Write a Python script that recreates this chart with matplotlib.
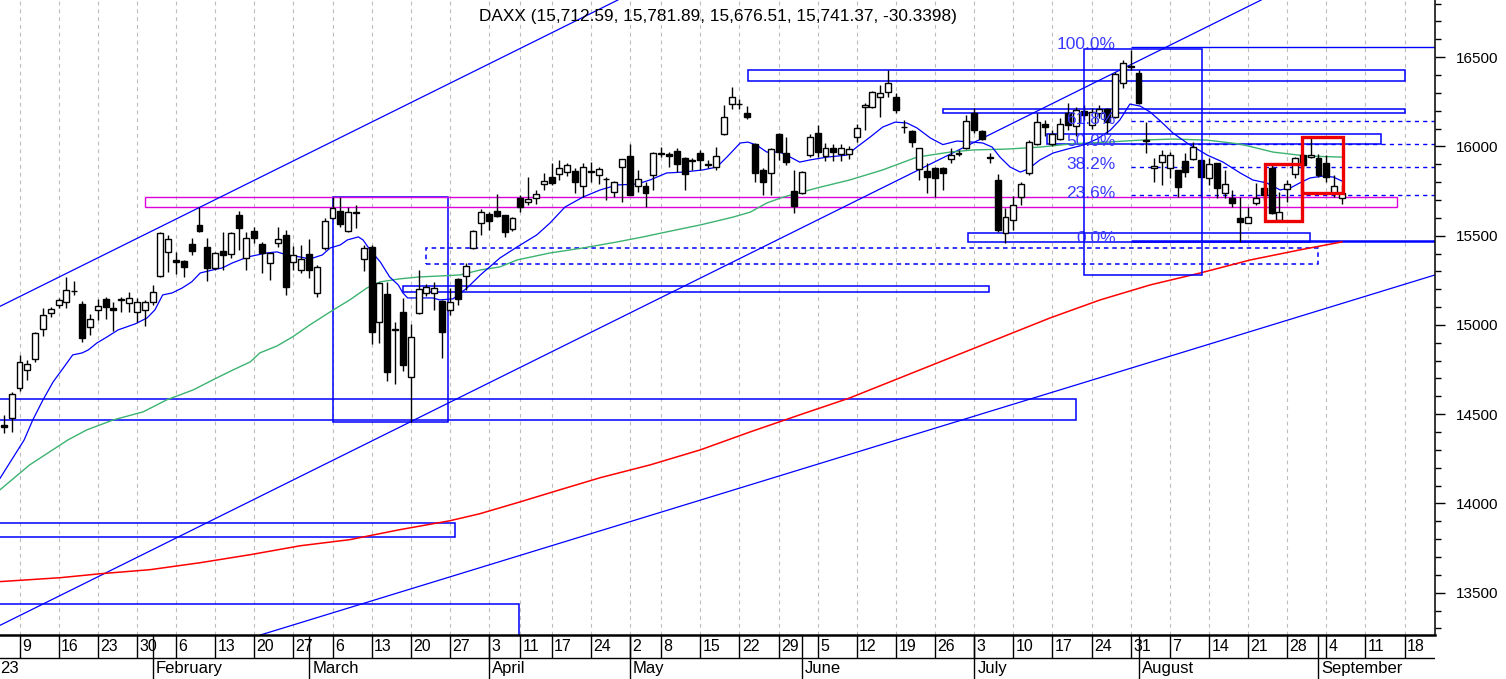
import numpy as np
import pandas as pd
import matplotlib
matplotlib.use("Agg")
import matplotlib.pyplot as plt
from matplotlib.patches import Rectangle
from matplotlib.ticker import MultipleLocator

plt.rcParams['font.family'] = ['Liberation Sans', 'DejaVu Sans']

# Xetra trading calendar 2023 (x axis = trading day number since 2 Jan)
holidays = ["2023-04-07", "2023-04-10", "2023-05-01"]
days = pd.bdate_range("2023-01-02", "2023-09-29")
days = days[~days.isin(pd.to_datetime(holidays))]

title = "DAXX (15,712.59, 15,781.89, 15,676.51, 15,741.37, -30.3398)"

# daily candles from 5 Jan 2023
first_candle = "2023-01-05"
opens = [14440, 14480, 14647, 14748, 14810, 14978, 15067, 15112, 15129, 15190,
         15118, 14989, 15084, 15146, 15095, 15140, 15123, 15073, 15084, 15129,
         15274, 15409, 15364, 15358, 15453, 15560, 15437, 15319, 15414, 15397,
         15616, 15375, 15526, 15453, 15347, 15459, 15504, 15353, 15308, 15397,
         15179, 15431, 15599, 15638, 15526, 15632, 15370, 15437, 15017, 15174,
         14975, 15073, 14709, 15067, 15179, 15179, 15134, 15085, 15257, 15274,
         15431, 15571, 15621, 15638, 15616, 15537, 15711, 15689, 15711, 15789,
         15829, 15846, 15857, 15862, 15778, 15862, 15840, 15820, 15745, 15885,
         15946, 15778, 15778, 15840, 15957, 15957, 15974, 15935, 15920, 15963,
         15900, 15885, 16069, 16237, 16240, 16187, 16013, 15868, 15851, 16069,
         15963, 15750, 15739, 15952, 16075, 15946, 15991, 15957, 15957, 16052,
         16220, 16220, 16276, 16304, 16276, 16110, 16086, 15873, 15862, 15879,
         15879, 15929, 15963, 15991, 16187, 16086, 15940, 15812, 15515, 15588,
         15717, 15851, 16013, 16125, 16011, 16041, 16187, 16116, 16200, 16120,
         16187, 16209, 16164, 16355, 16450, 16410, 16035, 15881, 15912, 15879,
         15868, 15918, 15929, 15924, 15823, 15907, 15739, 15711, 15599, 15571,
         15683, 15767, 15879, 15588, 15761, 15846, 15950, 15940, 15935, 15907,
         15739, 15712.59]
highs = [14497, 14625, 14832, 14804, 14961, 15095, 15101, 15151, 15269, 15246,
         15134, 15062, 15146, 15157, 15129, 15157, 15185, 15151, 15140, 15224,
         15521, 15504, 15409, 15364, 15487, 15660, 15487, 15409, 15521, 15521,
         15638, 15521, 15549, 15464, 15409, 15549, 15532, 15442, 15448, 15481,
         15336, 15599, 15716, 15716, 15660, 15672, 15448, 15448, 15241, 15241,
         15017, 15151, 15006, 15308, 15230, 15241, 15140, 15207, 15264, 15347,
         15532, 15649, 15632, 15733, 15618, 15604, 15728, 15829, 15756, 15851,
         15907, 15924, 15907, 15879, 15907, 15912, 15885, 15829, 15806, 15932,
         16013, 15868, 15801, 15969, 15996, 15969, 15991, 15940, 15935, 15980,
         15924, 15996, 16231, 16332, 16265, 16226, 16019, 15879, 15991, 16075,
         16052, 15868, 15862, 16069, 16120, 16019, 16013, 16013, 16000, 16125,
         16242, 16310, 16343, 16427, 16299, 16148, 16092, 15991, 15907, 15885,
         15885, 15991, 15980, 16175, 16215, 16092, 15963, 15846, 15655, 15722,
         15801, 16035, 16187, 16150, 16092, 16159, 16243, 16220, 16230, 16215,
         16230, 16215, 16416, 16483, 16540, 16427, 16136, 15935, 15980, 15969,
         15868, 15963, 16024, 15924, 15935, 15907, 15868, 15756, 15717, 15660,
         15795, 15812, 15896, 15745, 15812, 15940, 15960, 16047, 15960, 15952,
         15840, 15781.89]
lows = [14396, 14401, 14631, 14692, 14793, 14938, 15045, 15095, 15095, 15168,
        14905, 14944, 15028, 15034, 14966, 15073, 15073, 15017, 14994, 15112,
        15269, 15297, 15286, 15269, 15392, 15521, 15246, 15308, 15308, 15375,
        15420, 15308, 15459, 15291, 15252, 15437, 15168, 15308, 15291, 15263,
        15157, 15420, 15593, 15549, 15521, 15543, 15300, 14894, 14900, 14687,
        14670, 14740, 14458, 15062, 15160, 15085, 14815, 15056, 15112, 15196,
        15425, 15504, 15532, 15604, 15493, 15526, 15632, 15672, 15677, 15756,
        15784, 15812, 15834, 15739, 15717, 15801, 15789, 15700, 15717, 15689,
        15725, 15745, 15661, 15756, 15940, 15885, 15857, 15756, 15868, 15868,
        15879, 15868, 16065, 16209, 16209, 16153, 15801, 15728, 15728, 15924,
        15896, 15627, 15733, 15940, 15940, 15918, 15918, 15918, 15930, 16024,
        16092, 16215, 16164, 16276, 16187, 16075, 15996, 15812, 15739, 15717,
        15756, 15907, 15946, 15985, 16075, 16035, 15907, 15521, 15459, 15532,
        15672, 15840, 16008, 16060, 16000, 16035, 16090, 16060, 16150, 16100,
        16160, 16075, 16159, 16327, 16427, 16240, 15963, 15801, 15784, 15823,
        15717, 15829, 15924, 15717, 15784, 15711, 15711, 15661, 15465, 15571,
        15672, 15700, 15621, 15588, 15689, 15823, 15880, 15935, 15830, 15801,
        15717, 15676.51]
closes = [14430, 14614, 14793, 14782, 14955, 15056, 15090, 15140, 15196, 15188,
          14927, 15034, 15106, 15101, 15084, 15146, 15151, 15129, 15129, 15185,
          15515, 15481, 15353, 15325, 15414, 15526, 15319, 15403, 15392, 15515,
          15543, 15487, 15487, 15403, 15403, 15481, 15213, 15392, 15370, 15308,
          15325, 15582, 15655, 15565, 15632, 15627, 15431, 14961, 15235, 14737,
          14970, 14776, 14933, 15202, 15213, 15207, 14961, 15128, 15146, 15330,
          15526, 15632, 15582, 15610, 15520, 15599, 15661, 15706, 15733, 15806,
          15795, 15879, 15896, 15801, 15885, 15857, 15874, 15815, 15801, 15929,
          15728, 15818, 15739, 15963, 15962, 15946, 15901, 15846, 15926, 15924,
          15897, 15946, 16164, 16276, 16235, 16164, 15851, 15801, 15985, 15969,
          15912, 15666, 15857, 16052, 15969, 15991, 15969, 15991, 15985, 16103,
          16231, 16304, 16299, 16354, 16203, 16106, 16024, 15991, 15829, 15823,
          15851, 15952, 15957, 16142, 16092, 16041, 15934, 15532, 15605, 15672,
          15789, 16024, 16136, 16110, 16067, 16125, 16120, 16203, 16177, 16192,
          16209, 16136, 16405, 16466, 16444, 16243, 16030, 15892, 15952, 15952,
          15773, 15857, 15996, 15829, 15901, 15767, 15789, 15683, 15577, 15605,
          15711, 15728, 15627, 15632, 15789, 15935, 15895, 15952, 15840, 15829,
          15778, 15741.37]

# moving averages (trading day number, value)
fast_x = [2.5, 5.6, 6.7, 8.0, 9.3, 10.6, 11.8, 13.0, 13.8, 14.9, 16.2, 17.6, 19.8,
          21.3, 22.3, 23.3, 24.5, 25.8, 27.0, 28.1, 29.7, 30.9, 32.2, 34.2, 36.6,
          37.9, 39.2, 40.8, 42.1, 43.7, 44.7, 46.0, 46.9, 48.3, 48.9, 49.8, 51.1,
          52.3, 53.4, 54.0, 54.6, 56.2, 57.8, 58.7, 60.4, 62.2, 63.9, 66.4, 68.6,
          71.1, 72.8, 74.7, 77.0, 79.2, 81.4, 83.9, 85.6, 87.7, 89.8, 92.3, 94.1,
          95.4, 97.1, 98.1, 99.2, 100.5, 102.2, 103.5, 104.7, 106.0, 108.2, 110.7,
          112.0, 113.7, 115.3, 116.9, 118.4, 119.7, 121.4, 123.0, 124.8, 126.8,
          128.1, 129.3, 130.3, 131.6, 132.9, 133.9, 135.4, 137.1, 138.9, 140.9,
          142.7, 144.4, 145.6, 146.9, 148.2, 149.5, 150.8, 152.4, 154.2, 156.8,
          158.8, 161.0, 162.6, 164.4, 166.1, 167.4, 168.6, 169.9, 171.6, 172.9, 174.0]
fast_y = [14140, 14356, 14468, 14580, 14681, 14759, 14832, 14843, 14860, 14899,
          14933, 14972, 15006, 15039, 15084, 15168, 15179, 15207, 15241, 15291,
          15308, 15319, 15347, 15381, 15403, 15409, 15392, 15381, 15369, 15392,
          15431, 15448, 15476, 15493, 15476, 15420, 15353, 15269, 15224, 15179,
          15151, 15151, 15151, 15140, 15146, 15207, 15280, 15375, 15437, 15504,
          15571, 15660, 15716, 15756, 15784, 15789, 15812, 15851, 15856, 15868,
          15884, 15940, 16019, 16024, 16007, 15968, 15968, 15940, 15912, 15924,
          15940, 15951, 15996, 16052, 16108, 16136, 16131, 16103, 16047, 16010,
          16030, 16024, 16019, 15996, 15940, 15884, 15856, 15873, 15924, 15963,
          15985, 16007, 16041, 16091, 16147, 16237, 16226, 16192, 16142, 16075,
          16019, 15951, 15912, 15851, 15812, 15795, 15756, 15767, 15795, 15823,
          15834, 15828, 15806]
mid_x = [2.5, 6.3, 11.2, 13.6, 17.0, 20.8, 23.8, 27.2, 30.2, 32.3, 34.5, 35.7,
         37.9, 39.9, 42.1, 44.7, 47.2, 49.4, 51.1, 53.6, 56.2, 58.7, 61.3, 63.9,
         66.4, 68.6, 72.8, 77.0, 81.4, 84.7, 87.7, 92.0, 96.2, 98.4, 100.5, 102.6,
         106.9, 111.1, 115.3, 119.7, 123.9, 126.8, 131.2, 135.4, 139.6, 144.0,
         148.2, 152.4, 156.8, 161.0, 165.2, 169.5, 174.0]
mid_y = [14076, 14216, 14356, 14412, 14468, 14513, 14580, 14636, 14703, 14748,
         14793, 14843, 14882, 14933, 15000, 15073, 15140, 15207, 15241, 15258,
         15269, 15274, 15280, 15308, 15325, 15364, 15403, 15431, 15465, 15493,
         15521, 15560, 15604, 15632, 15683, 15716, 15767, 15812, 15868, 15940,
         15968, 15980, 15985, 15996, 16015, 16024, 16035, 16041, 16035, 16013,
         15968, 15946, 15940]
slow_x = [2.5, 10.2, 15.3, 21.7, 28.1, 34.5, 40.9, 47.2, 53.6, 60.0, 63.8, 69.0,
          74.1, 79.2, 85.6, 92.0, 98.4, 104.7, 111.1, 117.5, 123.9, 130.3, 136.7,
          143.1, 149.5, 155.9, 162.3, 168.6, 174.0]
slow_y = [13562, 13584, 13606, 13629, 13668, 13713, 13763, 13797, 13853, 13903,
          13942, 14009, 14077, 14144, 14216, 14300, 14401, 14496, 14591, 14703,
          14815, 14927, 15039, 15140, 15224, 15291, 15364, 15420, 15465]

# drawn objects: zones (first day, last day, low, high)
blue_zones = [(45.0, 59.8, 14458, 15716), (-10, 140.0, 14468, 14586),
              (-10, 60.6, 13813, 13892), (-10, 68.8, 13000, 13438),
              (54.0, 128.9, 15183, 15220), (98.1, 182.1, 16367, 16427),
              (123.0, 182.1, 16185, 16209), (136.3, 179.0, 16011, 16069),
              (126.2, 169.9, 15463, 15515)]
dashed_zone = (56.9, 170.9, 15341, 15429)
magenta_zone = (21.0, 181.0, 15660, 15716)
fib_box = (141.0, 156.1, 15280, 16545)
red_zones = [(164.2, 168.9, 15582, 15901), (168.9, 174.1, 15740, 16054)]
# trend lines: two anchor points each (day, price)
trend_lines = [((28, 15658), (66.1, 16486)),
               ((55, 14458), (150.75, 16539)),
               ((36.3, 13270), (185.9, 15280))]
# Fibonacci retracement
fib_start = 147.0
fib_low, fib_high = 15470, 16556
fib_ratios = [1.0, 0.618, 0.5, 0.382, 0.236, 0.0]

month_names = ["23", "February", "March", "April", "May", "June", "July",
               "August", "September"]

opens, highs, lows, closes = map(np.array, (opens, highs, lows, closes))
start = days.get_loc(pd.Timestamp(first_candle))
pos = np.arange(start, start + len(opens))

W, H = 1506, 679
fig = plt.figure(figsize=(W / 100, H / 100), dpi=100)
ax = fig.add_axes([0, 44 / H, 1435 / W, 635 / H])
strip = fig.add_axes([0, 0, 1435 / W, 44 / H], sharex=ax)

x0, x1 = 2.508, 185.89
ax.set_xlim(x0, x1)
ax.set_ylim(13263, 16820)

# weekly ticks and month starts
idx = pd.Series(np.arange(len(days)), index=days)
week_first = idx.groupby(days.to_period("W")).first()
month_first = idx.groupby(days.to_period("M")).first()
week_first = week_first[(week_first > x0) & (week_first < x1)]

for w in week_first.values:
    ax.axvline(w, color="#bdbdbd", lw=0.8, ls=(0, (3.5, 3.5)), zorder=0)

# zones and lines
for (a, b, lo, hi) in blue_zones:
    ax.add_patch(Rectangle((a, lo), b - a, hi - lo, fill=False, ec="#0000ff",
                           lw=1.1, zorder=2))
a, b, lo, hi = dashed_zone
ax.add_patch(Rectangle((a, lo), b - a, hi - lo, fill=False, ec="#0000ff",
                       lw=1.1, ls=(0, (3, 2.5)), zorder=2))
a, b, lo, hi = magenta_zone
ax.add_patch(Rectangle((a, lo), b - a, hi - lo, fill=False, ec="#dd00dd",
                       lw=1.0, zorder=2))
for p1, p2 in trend_lines:
    ax.axline(p1, p2, color="#0000ff", lw=0.9, zorder=2)

# fibonacci levels
for r in fib_ratios:
    lvl = fib_low + r * (fib_high - fib_low)
    if r == 0.0:
        ax.hlines(lvl, fib_start, x1 + 5, color="#0000ff", lw=1.8, zorder=2)
    elif r == 1.0:
        ax.hlines(lvl, fib_start, x1 + 5, color="#0000ff", lw=1.0, zorder=2)
    else:
        ax.hlines(lvl, fib_start, x1 + 5, color="#0000ff", lw=1.0,
                  ls=(0, (3, 3)), zorder=2)
    ax.text(145.1, lvl + 12, f"{r * 100:.1f}%", ha="right", va="center",
            fontsize=12.5, color="#3a3aff", zorder=5.5)

# moving averages
ax.plot(slow_x, slow_y, color="#ff0000", lw=1.1, zorder=3)
ax.plot(mid_x, mid_y, color="#3cb371", lw=1.0, zorder=3)
ax.plot(fast_x, fast_y, color="#0000ff", lw=0.9, zorder=3)

# candles
up = closes >= opens
ax.vlines(pos, lows, highs, color="black", lw=1.0, zorder=4)
ax.bar(pos, np.abs(closes - opens), bottom=np.minimum(opens, closes), width=0.76,
       color=np.where(up, "white", "black"), edgecolor="black", linewidth=1.0,
       zorder=5)

a, b, lo, hi = fib_box
ax.add_patch(Rectangle((a, lo), b - a, hi - lo, fill=False, ec="#0000ff",
                       lw=1.1, zorder=6))
for (a, b, lo, hi) in red_zones:
    ax.add_patch(Rectangle((a, lo), b - a, hi - lo, fill=False, ec="#ee0000",
                           lw=2.4, zorder=7))

# right price axis
ax.yaxis.tick_right()
ax.yaxis.set_major_locator(MultipleLocator(500))
ax.yaxis.set_minor_locator(MultipleLocator(100))
ax.tick_params(axis="y", which="major", length=7, width=1, labelsize=11, pad=8)
ax.tick_params(axis="y", which="minor", length=4, width=1)
ax.tick_params(axis="x", bottom=False, labelbottom=False)
for s in ("left", "top"):
    ax.spines[s].set_visible(False)
ax.spines["right"].set_linewidth(1.1)
ax.spines["bottom"].set_linewidth(1.8)

# date strip
strip.set_ylim(0, 1)
strip.axis("off")
strip.axhline(0.477, color="black", lw=1.0)
for w in week_first.values:
    strip.vlines(w, 0.477, 1, color="black", lw=1.0)
    strip.text(w + 0.3, 0.74, str(days[w].day), fontsize=11.5, va="center",
               ha="left", clip_on=True)
for m, name in zip(month_first.values, month_names):
    strip.vlines(m, 0, 1, color="black", lw=1.0)
    tx = m + 0.4 if m > x0 else x0 + 0.05
    strip.text(tx, 0.24, name, fontsize=12, va="center", ha="left",
               clip_on=True)

fig.text(718 / W, 1 - 16 / H, title, ha="center", va="center", fontsize=12.4)

fig.savefig("out.png", dpi=100)
